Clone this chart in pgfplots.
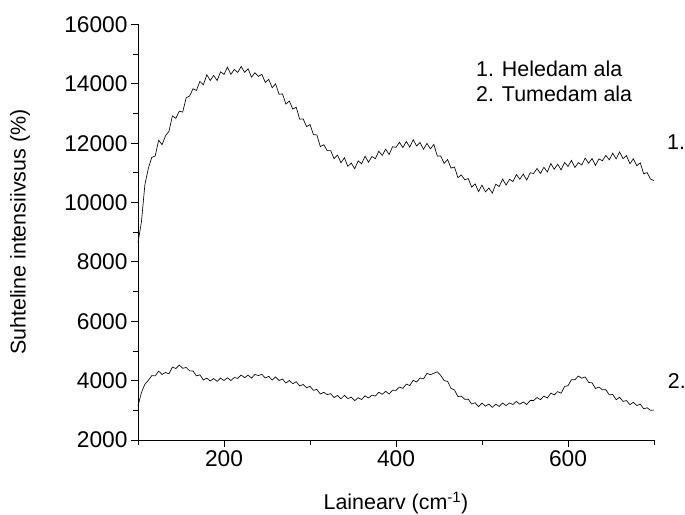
\documentclass[border=0pt]{standalone}
\usepackage{pgfplots}
\pgfplotsset{compat=1.18}
\usepackage{fontspec}
\setmainfont{Liberation Sans}
\newcommand{\ff}{\fontsize{21.5}{25}\selectfont}
\newcommand{\tf}{\fontsize{22.8}{26}\selectfont}
\begin{document}
\begin{tikzpicture}
\begin{axis}[name=ax, scale only axis, width=516bp, height=415.5bp,
 xmin=100, xmax=700, ymin=2000, ymax=16000,
 axis lines=left, axis line style={-, line width=0.9pt},
 xtick={200,400,600}, minor xtick={100,300,500,700},
 ytick={2000,4000,...,16000}, minor ytick={3000,5000,...,15000},
 tick align=outside, major tick length=7bp, minor tick length=4.5bp,
 tick style={line width=0.9pt, black},
 every tick label/.append style={font=\tf},
 /pgf/number format/assume math mode=true,
 /pgf/number format/1000 sep={},
 scaled ticks=false,
 xlabel={Lainearv (cm\textsuperscript{-1})},
 ylabel={Suhteline intensiivsus (\%)},
 xlabel style={font=\ff, at={(axis description cs:0.5,-0.1516)}, anchor=center},
 ylabel style={font=\ff, at={(axis description cs:-0.2287,0.5)}, anchor=center},
 clip=false,
]
\addplot[black, line width=0.65pt, mark=none] coordinates {
(100,8650) (104,9350) (108,10600) (112,11150) (116,11520) (120,11570) (124,12100) (128,11950) (132,12250) (136,12400)
(140,12920) (144,12840) (148,13080) (152,13050) (156,13530) (160,13590) (164,13835) (168,13780) (172,14080) (176,13970)
(180,14305) (184,14115) (188,14285) (192,14110) (196,14405) (200,14320) (204,14560) (208,14320) (212,14485) (216,14385)
(220,14588) (224,14387) (228,14510) (232,14225) (236,14375) (240,14250) (244,14320) (248,14050) (252,14150) (256,13870)
(260,14000) (264,13650) (268,13660) (272,13320) (276,13420) (280,13150) (284,13210) (288,12810) (292,12820) (296,12560)
(300,12630) (304,12290) (308,12280) (312,11885) (316,11950) (320,11750) (324,11750) (328,11480) (332,11600) (336,11340)
(340,11510) (344,11220) (348,11330) (352,11140) (356,11405) (360,11305) (364,11560) (368,11360) (372,11550) (376,11480)
(380,11730) (384,11590) (388,11800) (392,11620) (396,11880) (400,11860) (404,12030) (408,11855) (412,12060) (416,11870)
(420,12120) (424,11905) (428,12025) (432,11795) (436,11995) (440,11810) (444,11960) (448,11570) (452,11570) (456,11320)
(460,11450) (464,11160) (468,11200) (472,10840) (476,10930) (480,10770) (484,10810) (488,10520) (492,10630) (496,10370)
(500,10590) (504,10360) (508,10490) (512,10320) (516,10620) (520,10540) (524,10790) (528,10590) (532,10785) (536,10710)
(540,10945) (544,10785) (548,10960) (552,10760) (556,11005) (560,10980) (564,11150) (568,10980) (572,11190) (576,11030)
(580,11315) (584,11125) (588,11290) (592,11100) (596,11350) (600,11220) (604,11420) (608,11180) (612,11345) (616,11265)
(620,11500) (624,11325) (628,11485) (632,11255) (636,11470) (640,11410) (644,11590) (648,11440) (652,11665) (656,11470)
(660,11705) (664,11480) (668,11580) (672,11310) (676,11475) (680,11240) (684,11340) (688,10970) (692,11010) (696,10790)
(700,10740)
};
\addplot[black, line width=0.65pt, mark=none] coordinates {
(100,3150) (104,3600) (108,3880) (112,4010) (116,4170) (120,4160) (124,4320) (128,4210) (132,4275) (136,4230)
(140,4455) (144,4410) (148,4525) (152,4415) (156,4445) (160,4330) (164,4325) (168,4160) (172,4195) (176,4025)
(180,4085) (184,3990) (188,4070) (192,3975) (196,4085) (200,4005) (204,4095) (208,4005) (212,4105) (216,4075)
(220,4190) (224,4100) (228,4185) (232,4085) (236,4210) (240,4170) (244,4215) (248,4090) (252,4145) (256,4020)
(260,4125) (264,4005) (268,4055) (272,3920) (276,4005) (280,3895) (284,3965) (288,3820) (292,3870) (296,3760)
(300,3810) (304,3675) (308,3705) (312,3550) (316,3605) (320,3530) (324,3560) (328,3430) (332,3500) (336,3390)
(340,3505) (344,3395) (348,3445) (352,3325) (356,3425) (360,3365) (364,3490) (368,3415) (372,3510) (376,3480)
(380,3610) (384,3540) (388,3640) (392,3550) (396,3680) (400,3670) (404,3785) (408,3740) (412,3885) (416,3835)
(420,4010) (424,3955) (428,4090) (432,4060) (436,4245) (440,4200) (444,4250) (448,4300) (452,4175) (456,4000)
(460,3975) (464,3740) (468,3685) (472,3465) (476,3475) (480,3370) (484,3375) (488,3210) (492,3255) (496,3125)
(500,3240) (504,3140) (508,3210) (512,3100) (516,3205) (520,3130) (524,3245) (528,3160) (532,3250) (536,3196)
(540,3301) (544,3206) (548,3281) (552,3195) (556,3330) (560,3330) (564,3430) (568,3360) (572,3480) (576,3415)
(580,3580) (584,3520) (588,3630) (592,3575) (596,3800) (600,3830) (604,4030) (608,4030) (612,4155) (616,4080)
(620,4125) (624,3940) (628,3925) (632,3735) (636,3785) (640,3690) (644,3695) (648,3520) (652,3535) (656,3355)
(660,3440) (664,3300) (668,3330) (672,3190) (676,3270) (680,3160) (684,3210) (688,3050) (692,3085) (696,3000)
(700,3010)
};
\node[anchor=west, inner sep=0pt, font=\ff] at (axis cs:493,14499) {1. Heledam ala};
\node[anchor=west, inner sep=0pt, font=\ff] at (axis cs:493,13657) {2. Tumedam ala};
\node[anchor=west, inner sep=0pt, font=\ff] at (axis cs:715,12023) {1.};
\node[anchor=west, inner sep=0pt, font=\ff] at (axis cs:716,3990) {2.};
\end{axis}
\pgfresetboundingbox
\path ([xshift=-138bp,yshift=-75bp]ax.south west) rectangle ([xshift=547bp,yshift=440bp]ax.south west);
\end{tikzpicture}
\end{document}
